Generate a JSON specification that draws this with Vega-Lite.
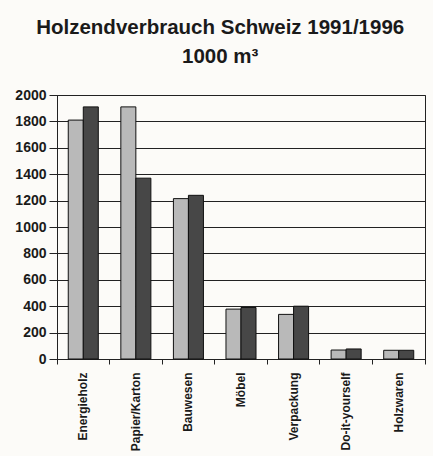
{
  "$schema": "https://vega.github.io/schema/vega-lite/v6.json",
  "width": 368,
  "height": 264,
  "padding": {"left": 14, "top": 17, "right": 9, "bottom": 5},
  "background": "#fcfbf8",
  "title": {
    "text": ["Holzendverbrauch Schweiz 1991/1996", "1000 m³"],
    "fontSize": 20.5,
    "fontWeight": "bold",
    "font": "Liberation Sans",
    "lineHeight": 29,
    "anchor": "middle",
    "frame": "bounds",
    "offset": 21,
    "color": "#1a1a1a"
  },
  "data": {
    "values": [
      {"Kategorie": "Energieholz", "Jahr": "1991", "Wert": 1810},
      {"Kategorie": "Energieholz", "Jahr": "1996", "Wert": 1910},
      {"Kategorie": "Papier/Karton", "Jahr": "1991", "Wert": 1910},
      {"Kategorie": "Papier/Karton", "Jahr": "1996", "Wert": 1370},
      {"Kategorie": "Bauwesen", "Jahr": "1991", "Wert": 1215},
      {"Kategorie": "Bauwesen", "Jahr": "1996", "Wert": 1240},
      {"Kategorie": "Möbel", "Jahr": "1991", "Wert": 378},
      {"Kategorie": "Möbel", "Jahr": "1996", "Wert": 390},
      {"Kategorie": "Verpackung", "Jahr": "1991", "Wert": 338},
      {"Kategorie": "Verpackung", "Jahr": "1996", "Wert": 400},
      {"Kategorie": "Do-it-yourself", "Jahr": "1991", "Wert": 68},
      {"Kategorie": "Do-it-yourself", "Jahr": "1996", "Wert": 76},
      {"Kategorie": "Holzwaren", "Jahr": "1991", "Wert": 66},
      {"Kategorie": "Holzwaren", "Jahr": "1996", "Wert": 66}
    ]
  },
  "mark": {"type": "bar", "stroke": "#111", "strokeWidth": 1},
  "encoding": {
    "x": {
      "field": "Kategorie",
      "type": "nominal",
      "sort": null,
      "scale": {"paddingInner": 0, "paddingOuter": 0},
      "axis": {
        "title": null,
        "labelAngle": -90,
        "bandPosition": 1,
        "tickExtra": true,
        "tickSize": 5,
        "tickColor": "#222",
        "domainColor": "#222",
        "labelFont": "Liberation Sans",
        "labelFontWeight": "bold",
        "labelFontSize": 12,
        "labelColor": "#1a1a1a",
        "labelPadding": 8
      }
    },
    "xOffset": {
      "field": "Jahr",
      "type": "nominal",
      "scale": {"paddingOuter": 0.75, "paddingInner": 0}
    },
    "y": {
      "field": "Wert",
      "type": "quantitative",
      "scale": {"domain": [0, 2000]},
      "axis": {
        "title": null,
        "format": "d",
        "values": [0, 200, 400, 600, 800, 1000, 1200, 1400, 1600, 1800, 2000],
        "tickSize": 8,
        "tickColor": "#222",
        "gridColor": "#222",
        "gridOpacity": 1,
        "domainColor": "#222",
        "labelFont": "Liberation Sans",
        "labelFontWeight": "bold",
        "labelFontSize": 14,
        "labelColor": "#1a1a1a",
        "labelPadding": 3
      }
    },
    "color": {
      "field": "Jahr",
      "type": "nominal",
      "scale": {"range": ["#b9b9b9", "#474747"]},
      "legend": null
    }
  },
  "config": {"view": {"stroke": "#222", "strokeWidth": 1}}
}
